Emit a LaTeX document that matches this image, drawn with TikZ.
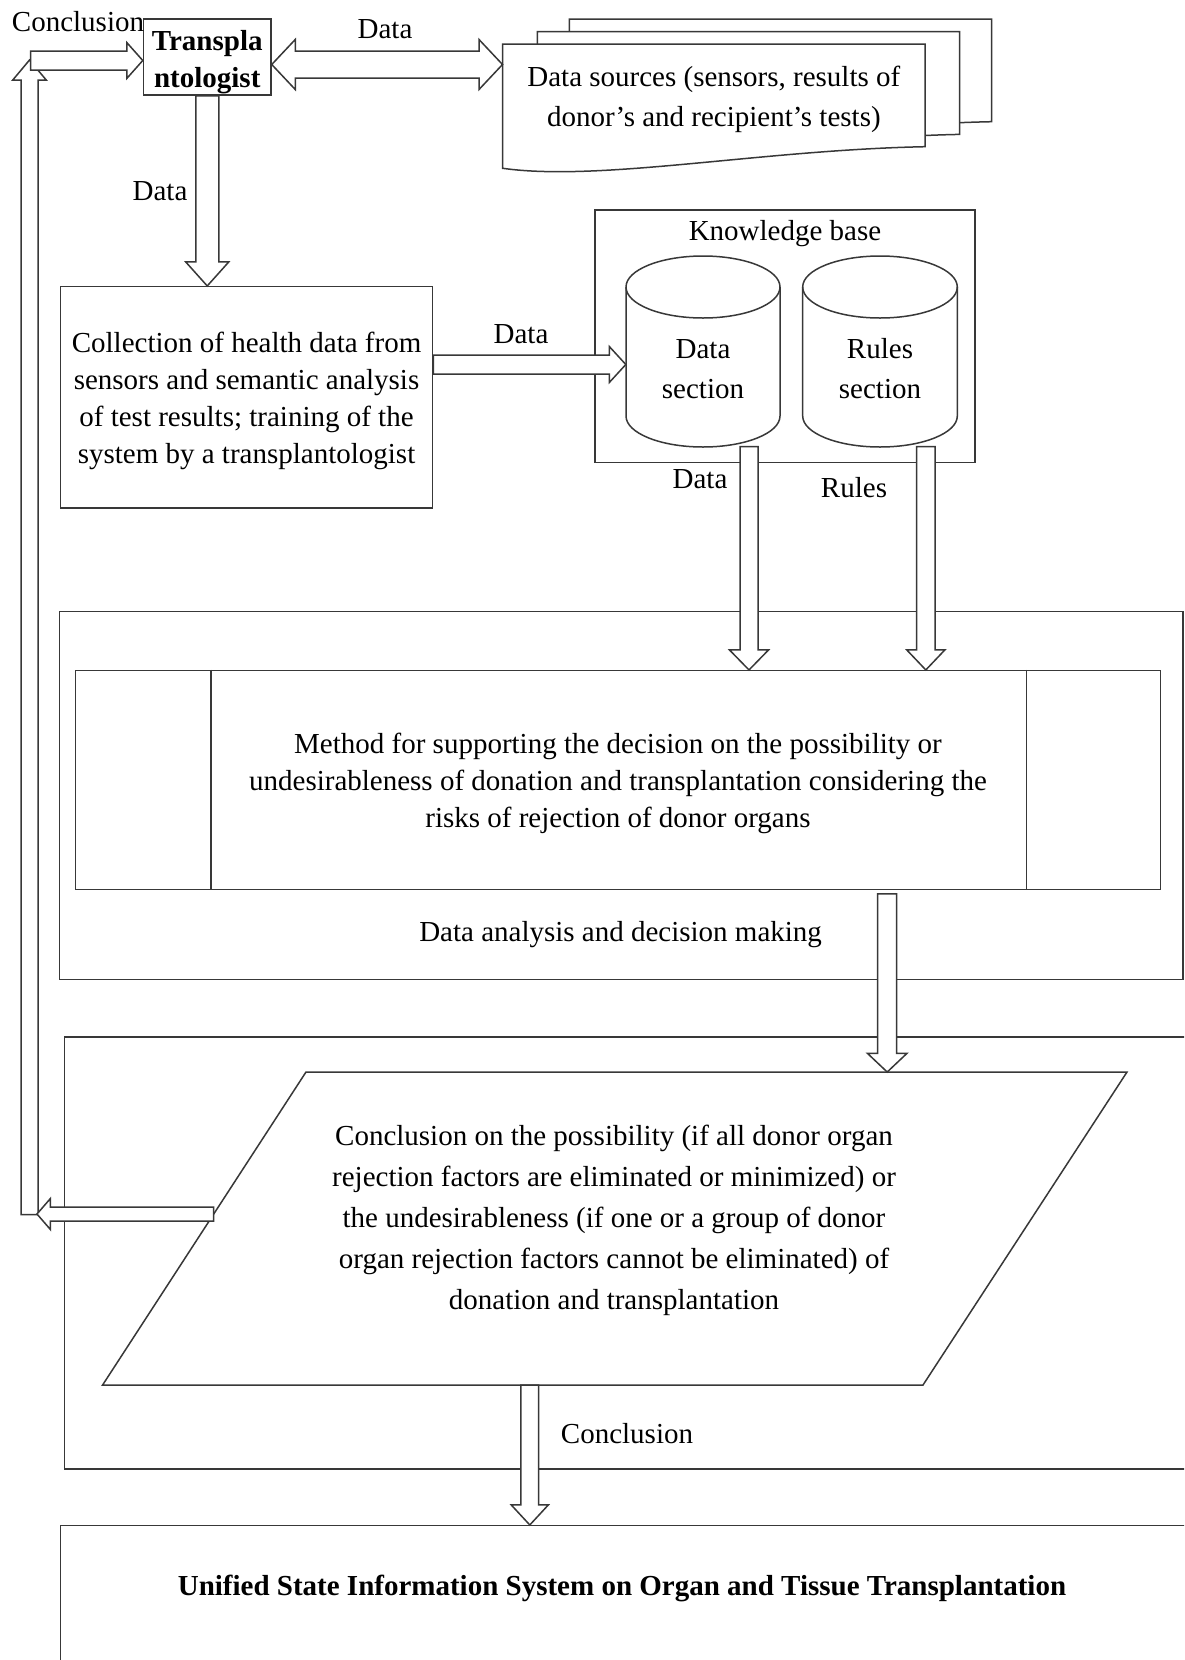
\documentclass[tikz,border=0pt]{standalone}
\usepackage{fontspec}
\setmainfont{Liberation Serif}
\usetikzlibrary{calc}
\newcommand{\barrow}[5]{%
  \coordinate (bahd) at ($(#2)!#5!(#1)$);
  \draw[arr] ($(#1)!#3!90:(#2)$) -- ($(bahd)!#3!90:(#2)$) -- ($(bahd)!#4!90:(#2)$) -- (#2)
    -- ($(bahd)!#4!-90:(#2)$) -- ($(bahd)!#3!-90:(#2)$) -- ($(#1)!#3!-90:(#2)$) -- cycle;}
\newcommand{\dbarrow}[5]{%
  \coordinate (dbha) at ($(#1)!#5!(#2)$);
  \coordinate (dbhb) at ($(#2)!#5!(#1)$);
  \draw[arr] (#1) -- ($(dbha)!#4!90:(#2)$) -- ($(dbha)!#3!90:(#2)$) -- ($(dbhb)!#3!90:(#2)$)
    -- ($(dbhb)!#4!90:(#2)$) -- (#2) -- ($(dbhb)!#4!-90:(#2)$) -- ($(dbhb)!#3!-90:(#2)$)
    -- ($(dbha)!#3!-90:(#2)$) -- ($(dbha)!#4!-90:(#2)$) -- cycle;}
\newcommand{\tstrut}[1]{\rule{0pt}{#1}}
\tikzset{
  ln/.style={draw=black!78, line width=1.5pt},
  box/.style={ln, rectangle, inner sep=0pt},
  txt/.style={font=\fontsize{29}{37}\selectfont, align=center, inner sep=0pt},
  btxt/.style={font=\bfseries\fontsize{29}{37}\selectfont, align=center, inner sep=0pt},
  arr/.style={ln, fill=white, line join=miter},
  shp/.style={ln, fill=white},
}
\begin{document}
\begin{tikzpicture}[x=1pt,y=-1pt]
\useasboundingbox (0,0) rectangle (1184,1660);
\clip (0,0) rectangle (1184,1660);
\fill[white] (0,0) rectangle (1184,1660);

% data source documents
\foreach \dx/\dy in {66.6/-25, 34.6/-12.3}
  \draw[shp, shift={(\dx,\dy)}] (502.7,44) -- (925,44) -- (925,146.7) .. controls (760,150) and (600,182) .. (502.7,168.3) -- cycle;
\draw[shp] (502.7,44) -- (925,44) -- (925,146.7) .. controls (760,150) and (600,182) .. (502.7,168.3) -- cycle;
\node[txt, font=\fontsize{29}{40}\selectfont, minimum width=422.3pt, minimum height=102.7pt] (sources) at (713.85,95.35)
  {\tstrut{28pt}Data sources (sensors, results of\\donor’s and recipient’s tests)};

% transplantologist
\node[box, btxt, minimum width=127.5pt, minimum height=76pt] (transp) at (207.25,57) {\tstrut{31pt}Transpla\\ntologist};

% collection
\node[box, txt, minimum width=372.3pt, minimum height=221.3pt] (collect) at (246.55,397.35)
  {\tstrut{28pt}Collection of health data from\\sensors and semantic analysis\\of test results; training of the\\system by a transplantologist};

% knowledge base
\node[box, minimum width=380pt, minimum height=252.7pt] (kb) at (785,336.35) {};
\node[txt, anchor=base] (kblabel) at (785,240) {Knowledge base};
\draw[ln] (626,287) -- (626,416) .. controls (626,433.1) and (660.5,447) .. (703,447) .. controls (745.5,447) and (780,433.1) .. (780,416) -- (780,287);
\draw[ln] (703,287) ellipse [x radius=77pt, y radius=31pt];
\draw[ln] (802.7,287) -- (802.7,416) .. controls (802.7,433.1) and (837.3,447) .. (880,447) .. controls (922.7,447) and (957.3,433.1) .. (957.3,416) -- (957.3,287);
\draw[ln] (880,287) ellipse [x radius=77.3pt, y radius=31pt];
\node[txt, font=\fontsize{29}{40}\selectfont, minimum width=154pt] (datasec) at (703,369) {Data\\section};
\node[txt, font=\fontsize{29}{40}\selectfont, minimum width=154.6pt] (rulessec) at (880,368.5) {Rules\\section};

% data analysis
\node[box, minimum width=1123.7pt, minimum height=367.6pt] (analysis) at (621.15,795.5) {};
\node[box, txt, minimum width=1085.4pt, minimum height=218.8pt] (method) at (618,780.1)
  {\tstrut{28pt}Method for supporting the decision on the possibility or\\undesirableness of donation and transplantation considering the\\risks of rejection of donor organs};
\draw[ln] ($(method.north west)+(136.4,0)$) -- ($(method.south west)+(136.4,0)$);
\draw[ln] ($(method.north east)+(-135.1,0)$) -- ($(method.south east)+(-135.1,0)$);
\node[txt, anchor=base] (analysislabel) at (620.6,941.7) {Data analysis and decision making};

% conclusion block
\node[box, minimum width=1140pt, minimum height=432pt] (conclbox) at (634.3,1253) {};
\coordinate (pTL) at (306,1072);
\coordinate (pTR) at (1127,1072);
\coordinate (pBR) at (923,1385);
\coordinate (pBL) at (102.6,1385);
\draw[ln, fill=white] (pTL) -- (pTR) -- (pBR) -- (pBL) -- cycle;
\node[txt, font=\fontsize{29}{41}\selectfont] (para) at (614,1220)
  {Conclusion on the possibility (if all donor organ\\rejection factors are eliminated or minimized) or\\the undesirableness (if one or a group of donor\\organ rejection factors cannot be eliminated) of\\donation and transplantation};

% USIS
\node[box, minimum width=1150pt, minimum height=200pt] (usis) at (635.4,1625.7) {};
\node[btxt, anchor=base] (usistext) at (622,1595) {Unified State Information System on Organ and Tissue Transplantation};

% labels
\node[txt, anchor=base] (lconcl1) at (78,31) {Conclusion};
\node[txt, anchor=base] (ldata1) at (385,38) {Data};
\node[txt, anchor=base] (ldata2) at (160,200) {Data};
\node[txt, anchor=base] (ldata3) at (521,343) {Data};
\node[txt, anchor=base] (ldata4) at (700,488) {Data};
\node[txt, anchor=base] (lrules) at (854,497) {Rules};
\node[txt, anchor=base] (lconcl2) at (627,1443) {Conclusion};

% block arrows
\coordinate (vbot) at (29.5,1214.5);
\coordinate (vtop) at (29.5,60);
\barrow{vbot}{vtop}{8.5pt}{16.7pt}{20pt}
\coordinate (hs) at (30.6,60.5);
\coordinate (ht) at (hs -| transp.west);
\barrow{hs}{ht}{9.5pt}{18pt}{16pt}
\coordinate (dA) at ($(transp.east)+(0,7.5)$);
\coordinate (dB) at (dA -| sources.west);
\dbarrow{dA}{dB}{13.5pt}{25pt}{23.5pt}
\coordinate (t1) at (transp.south);
\coordinate (t2) at (collect.north -| transp.south);
\barrow{t1}{t2}{11.5pt}{21.5pt}{24pt}
\coordinate (c1) at ($(collect.east)+(0,-32.85)$);
\coordinate (c2) at (c1 -| datasec.west);
\barrow{c1}{c2}{9.5pt}{18pt}{16.5pt}
\coordinate (ds1) at ($(datasec.center)+(46,77.7)$);
\coordinate (ds2) at (ds1 |- method.north);
\barrow{ds1}{ds2}{9pt}{19.5pt}{20pt}
\coordinate (rs1) at ($(rulessec.center)+(45.8,78.2)$);
\coordinate (rs2) at (rs1 |- method.north);
\barrow{rs1}{rs2}{9.2pt}{19pt}{20pt}
\coordinate (m1) at ($(method.south)+(269.2,3.5)$);
\coordinate (m2) at (m1 |- pTL);
\barrow{m1}{m2}{9.5pt}{19.8pt}{18.7pt}
\coordinate (pl) at ($(pBL)!0.5463!(pTL)$);
\coordinate (pl2) at ($(pl -| vbot)+(7.5,0)$);
\barrow{pl}{pl2}{7pt}{15.5pt}{13.4pt}
\coordinate (pb) at ($(pBL)!0.5207!(pBR)$);
\coordinate (pb2) at (pb |- usis.north);
\barrow{pb}{pb2}{8.8pt}{18.5pt}{20pt}
\end{tikzpicture}
\end{document}
